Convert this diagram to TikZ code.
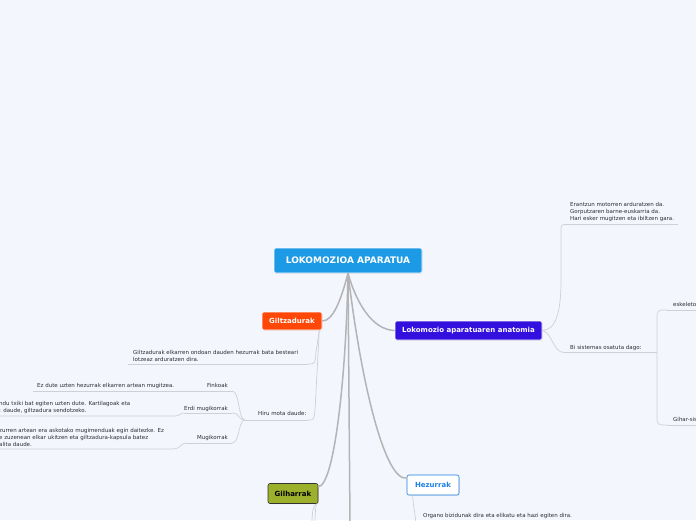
\documentclass[tikz,border=0pt]{standalone}
\usepackage{fontspec}
\setmainfont{DejaVu Sans}
\usetikzlibrary{shadows}
\definecolor{pagebg}{RGB}{243,246,253}
\definecolor{rootblue}{RGB}{28,154,230}
\definecolor{giltred}{RGB}{255,72,8}
\definecolor{anatviolet}{RGB}{52,16,222}
\definecolor{gilgreen}{RGB}{156,176,44}
\definecolor{hezblue}{RGB}{28,128,230}
\definecolor{trunkgray}{RGB}{180,180,182}
\definecolor{twiggray}{RGB}{208,208,212}
\definecolor{notetext}{RGB}{45,45,50}

\begin{document}
\begin{tikzpicture}[x=1pt,y=-1pt,
  topic/.style={rounded corners=2pt,inner sep=0pt,draw=white,line width=.6pt,text=white,font=\bfseries\fontsize{7}{8}\selectfont,drop shadow={opacity=.25,shadow xshift=.5pt,shadow yshift=-.7pt}},
  note/.style={font=\fontsize{5.5}{7}\selectfont,text=notetext,align=left,inner sep=0pt},
  trunk/.style={draw=trunkgray,line width=1.5pt},
  twig/.style={draw=twiggray,line width=.7pt}]
\fill[pagebg] (0,0) rectangle (696,520);
\useasboundingbox (0,0) rectangle (696,520);
\clip (0,0) rectangle (696,520);

\node[topic,fill=rootblue,minimum width=148pt,minimum height=25pt,font=\bfseries\fontsize{9}{10}\selectfont] (root) at (348,260.5) {LOKOMOZIOA APARATUA};
\node[topic,fill=giltred,minimum width=60pt,minimum height=18pt] (gilt) at (292,321) {Giltzadurak};
\node[topic,fill=anatviolet,minimum width=147pt,minimum height=19pt] (anat) at (468.5,330.5) {Lokomozio aparatuaren anatomia};
\node[topic,fill=gilgreen,draw=black!80,text=black,minimum width=50pt,minimum height=20pt] (gil) at (293,493.5) {Gilharrak};
\node[topic,fill=white,draw=hezblue,text=hezblue,minimum width=52pt,minimum height=20pt] (hez) at (433,485) {Hezurrak};
\coordinate (down) at (350,524);

\draw[trunk] (root.south) .. controls (341,300) and (333,321) .. (gilt.east);
\draw[trunk] (root.south) .. controls (356,302) and (372,330) .. (anat.west);
\draw[trunk] (root.south) .. controls (346,380) and (334,486) .. (gil.15);
\draw[trunk] (root.south) .. controls (362,390) and (386,482) .. (hez.165);
\draw[trunk] (root.south) -- (down);

% Giltzadurak
\coordinate (giltnoteL) at (128,364); \coordinate (giltnoteR) at (308,364);
\node[note,anchor=south west] (giltnote) at (133,361.5) {Giltzadurak elkarren ondoan dauden hezurrak bata besteari\\lotzeaz arduratzen dira.};
\draw[twig] (giltnoteL) -- (giltnoteR);
\draw[twig] ([xshift=-3pt]gilt.south east) -- (316,352) .. controls (315,364) .. (giltnoteR);
\coordinate (hiruL) at (245,420); \coordinate (hiruR) at (308,420);
\node[note,anchor=base west] (hiru) at (258,415.5) {Hiru mota daude:};
\draw[twig] (hiruL) -- (hiruR);
\draw[twig] ([xshift=-3pt]gilt.south east) -- (315,410) .. controls (314,420) .. (hiruR);

\coordinate (finkL) at (33,391); \coordinate (finkR) at (232,391);
\node[note,anchor=base east] (fink) at (228,387.5) {Finkoak};
\node[note,anchor=base west] (finknote) at (37,387.5) {Ez dute uzten hezurrak elkarren artean mugitzea.};
\draw[twig] (finkL) -- (finkR);
\draw[twig] (hiruL) .. controls (238,420) and (240,391) .. (finkR);

\coordinate (erdiL) at (184,413); \coordinate (erdiR) at (232,413);
\node[note,anchor=base east] (erdi) at (228,410.5) {Erdi mugikorrak};
\node[note,anchor=south west] (erdinote) at (-1,414) {ndu txiki bat egiten uzten dute. Kartilagoak eta\\: daude, giltzadura sendotzeko.};
\draw[twig] (erdiL) -- (erdiR);
\draw[twig] (hiruL) .. controls (238,420) and (240,413) .. (erdiR);
\draw[twig] (erdiL) .. controls (179,413) and (181,416) .. (174,416) -- (-2,416);

\coordinate (mugiL) at (186,443); \coordinate (mugiR) at (232,443);
\node[note,anchor=base east] (mugi) at (228,439.5) {Mugikorrak};
\node[note,anchor=south west] (muginote) at (-1,447) {zurren artean era askotako mugimenduak egin daitezke. Ez\\e zuzenean elkar ukitzen eta giltzadura-kapsula batez\\alita daude.};
\draw[twig] (mugiL) -- (mugiR);
\draw[twig] (hiruL) .. controls (238,420) and (240,443) .. (mugiR);
\draw[twig] (mugiL) .. controls (180,443) and (182,449) .. (172,449) -- (-2,449);

% Lokomozio aparatuaren anatomia
\coordinate (anatnoteL) at (566,224.5); \coordinate (anatnoteR) at (678,224.5);
\node[note,anchor=south west] (anatnote) at (570,222) {Erantzun motorren arduratzen da.\\Gorputzaren barne-euskarria da.\\Hari esker mugitzen eta ibiltzen gara.};
\draw[twig] (anatnoteL) -- (anatnoteR);
\draw[twig] (anat.east) .. controls (556,330) and (561,312) .. (561,280) -- (561,234) .. controls (561,224.5) .. (anatnoteL);
\coordinate (biL) at (564,352.5); \coordinate (biR) at (657,352.5);
\node[note,anchor=base west] (bi) at (570,349) {Bi sistemas osatuta dago:};
\draw[twig] (biL) -- (biR);
\draw[twig] (anat.east) .. controls (552,332) and (553,352.5) .. (biL);

\coordinate (eskL) at (667,310); \coordinate (eskR) at (700,310);
\node[note,anchor=base west] (esk) at (673,306.5) {eskeleto};
\draw[twig] (eskL) -- (eskR);
\draw[twig] (biR) -- (657,320) .. controls (657,310) .. (eskL);
\coordinate (ghrL) at (667,425); \coordinate (ghrR) at (700,425);
\node[note,anchor=base west] (ghr) at (673,421.5) {Gihar-sis};
\draw[twig] (ghrL) -- (ghrR);
\draw[twig] (biR) -- (657,415) .. controls (657,425) .. (ghrL);

% Hezurrak
\coordinate (heznoteL) at (416,524);
\node[note,anchor=base west] (heznote) at (423,517) {Organo bizidunak dira eta elikatu eta hazi egiten dira.};
\draw[twig] ([xshift=6pt]hez.south west) .. controls (413,505) and (415,512) .. (heznoteL);

% Gilharrak
\coordinate (gildownA) at (312,524); \coordinate (gildownB) at (315,524);
\draw[twig] ([xshift=-2pt]gil.south east) .. controls (313,506) and (312,512) .. (gildownA);
\draw[twig] ([xshift=-2pt]gil.south east) .. controls (316,506) and (315,512) .. (gildownB);
\end{tikzpicture}
\end{document}
